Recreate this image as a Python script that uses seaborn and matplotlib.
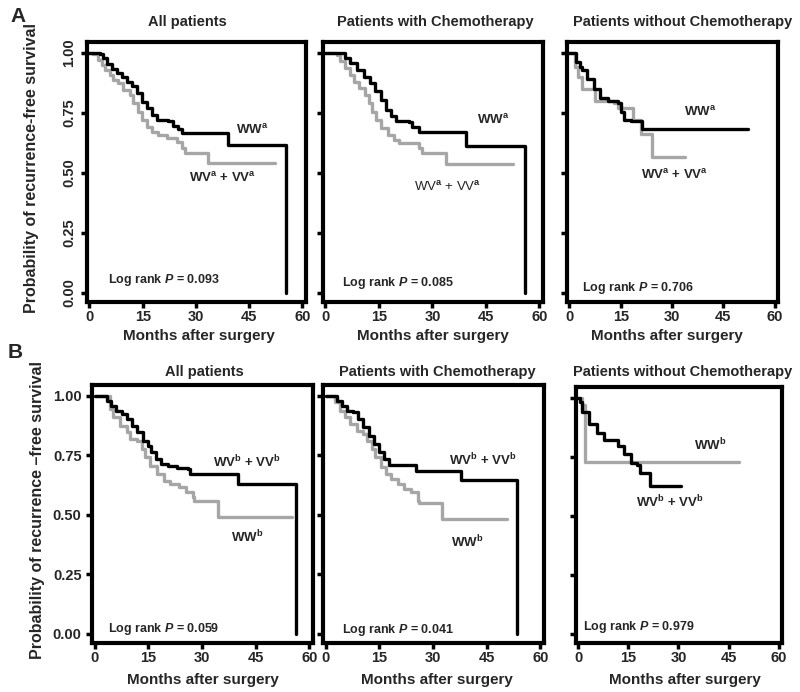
import numpy as np
import pandas as pd
import matplotlib
matplotlib.use("Agg")
import matplotlib.pyplot as plt
import seaborn as sns

# ---- data (months after surgery, survival prob.) ----
# row A: black = WW, gray = WV + VV
a1_ww_m = [0, 1.5, 3.0, 3.9, 4.85, 6.25, 7.7, 9.1, 10.5, 11.9, 13.3, 14.7, 16.1, 17.5, 18.9,
           22.2, 23.6, 25.0, 26.0, 39.1, 55.4]
a1_ww_s = [1.0, 1.0, 0.996, 0.978, 0.954, 0.932, 0.915, 0.899, 0.88, 0.86, 0.832, 0.797, 0.77,
           0.742, 0.72, 0.714, 0.696, 0.682, 0.668, 0.617, 0.0]
a1_wv_m = [0, 1.1, 2.5, 3.4, 4.3, 5.7, 6.7, 8.1, 9.5, 11.4, 12.4, 13.8, 14.7, 16.1, 17.5, 19.4,
           21.7, 24.6, 26.0, 27.0, 33.5, 52.3]
a1_wv_s = [1.0, 0.996, 0.971, 0.95, 0.929, 0.908, 0.887, 0.874, 0.846, 0.825, 0.79, 0.755, 0.72,
           0.693, 0.672, 0.658, 0.645, 0.63, 0.603, 0.582, 0.54, 0.54]

a2_ww_m = [0, 4.6, 5.5, 6.9, 8.8, 10.7, 12.6, 14.0, 15.5, 16.9, 18.3, 19.7, 23.5, 24.4, 26.3,
           39.5, 55.9]
a2_ww_s = [1.0, 0.998, 0.978, 0.957, 0.929, 0.901, 0.874, 0.84, 0.804, 0.762, 0.735, 0.718,
           0.71, 0.69, 0.672, 0.61, 0.0]
a2_wv_m = [0, 3.2, 4.1, 5.5, 6.9, 7.9, 9.3, 11.2, 12.2, 13.1, 14.1, 15.5, 17.4, 19.2, 20.7,
           26.3, 27.2, 33.8, 52.7]
a2_wv_s = [1.0, 0.992, 0.964, 0.936, 0.908, 0.88, 0.853, 0.825, 0.79, 0.755, 0.72, 0.686,
           0.658, 0.637, 0.624, 0.603, 0.582, 0.537, 0.537]

a3_ww_m = [0, 2, 3, 3.7, 5.1, 7.1, 8.9, 11.3, 14.2, 15.1, 16, 18, 21.3, 52.3]
a3_ww_s = [1.0, 0.96, 0.94, 0.93, 0.89, 0.85, 0.81, 0.80, 0.79, 0.755, 0.72, 0.714, 0.683, 0.683]
a3_wv_m = [0, 1.5, 2.5, 3.7, 7.4, 13.1, 14.2, 18.5, 20.9, 24.2, 33.7]
a3_wv_s = [1.0, 0.94, 0.90, 0.85, 0.80, 0.79, 0.77, 0.72, 0.66, 0.567, 0.567]

# row B: black = WV + VV, gray = WW
b1_wv_m = [0, 2.2, 3.6, 4.5, 5.9, 7.8, 9.2, 10.6, 12.0, 13.4, 14.9, 15.8, 17.2, 18.6, 20.5,
           22.9, 26.2, 26.6, 40.1, 56.2]
b1_wv_s = [1.0, 0.997, 0.979, 0.958, 0.937, 0.923, 0.902, 0.874, 0.846, 0.811, 0.79, 0.762,
           0.734, 0.714, 0.707, 0.695, 0.693, 0.672, 0.63, 0.0]
b1_ww_m = [0, 4.3, 5.3, 7.2, 9.1, 10.0, 11.9, 13.3, 14.2, 15.6, 17.5, 19.4, 21.2, 23.6, 25.5,
           27.4, 27.9, 34.4, 55.1]
b1_ww_s = [1.0, 0.944, 0.909, 0.874, 0.846, 0.818, 0.811, 0.776, 0.741, 0.707, 0.672, 0.644,
           0.63, 0.616, 0.595, 0.574, 0.556, 0.491, 0.491]

b2_wv_m = [0, 3.1, 4.5, 5.9, 7.8, 9.2, 10.6, 12.1, 13.5, 14.9, 16.3, 17.7, 25.2, 37.9, 53.4]
b2_wv_s = [1.0, 0.979, 0.958, 0.937, 0.93, 0.902, 0.867, 0.832, 0.797, 0.762, 0.734, 0.709,
           0.686, 0.647, 0.0]
b2_ww_m = [0, 2.7, 4.1, 5.5, 6.9, 8.8, 10.6, 11.6, 13.0, 13.9, 15.4, 16.8, 18.2, 20.1, 21.9,
           23.8, 25.7, 26.1, 32.4, 50.7]
b2_ww_s = [1.0, 0.972, 0.937, 0.909, 0.881, 0.853, 0.839, 0.811, 0.776, 0.741, 0.70, 0.672,
           0.651, 0.63, 0.609, 0.595, 0.56, 0.549, 0.481, 0.481]

b3_wv_m = [0, 0.6, 1.2, 3.1, 5.5, 7.8, 11.8, 13.6, 15.7, 17.6, 18.6, 21.4, 30.6]
b3_wv_s = [1.0, 0.98, 0.94, 0.89, 0.85, 0.82, 0.795, 0.76, 0.725, 0.715, 0.68, 0.628, 0.628]
b3_ww_m = [0, 1.0, 1.9, 48]
b3_ww_s = [1.0, 0.97, 0.728, 0.728]

titles = ["All patients", "Patients with Chemotherapy", "Patients without Chemotherapy"]
p_values = ["0.093", "0.085", "0.706", "0.059", "0.041", "0.979"]
x_ticks = [0, 15, 30, 45, 60]
y_ticks = [0.00, 0.25, 0.50, 0.75, 1.00]

sns.set_style("white")
plt.rcParams["font.family"] = ["Liberation Sans", "DejaVu Sans"]
plt.rcParams["mathtext.fontset"] = "custom"
plt.rcParams["mathtext.rm"] = "Liberation Sans:bold"
plt.rcParams["mathtext.bf"] = "Liberation Sans:bold"
plt.rcParams["mathtext.it"] = "Liberation Sans:italic:bold"

W, H = 800, 692
fig = plt.figure(figsize=(8, 6.92), dpi=100)
fig.patch.set_facecolor("white")


def px(x, y):
    return x / W, 1 - y / H


def put(x, y, s, **kw):
    fx, fy = px(x, y)
    kw.setdefault("ha", "center")
    kw.setdefault("va", "center")
    kw.setdefault("fontweight", "bold")
    fig.text(fx, fy, s, **kw)


GRAY = "#a6a6a6"
BLACK = "#000000"

# frame boxes in pixels: x0, y0, x1, y1
frames = [(87, 42, 306, 302), (323, 42, 543, 302), (567, 42, 778, 302),
          (92, 385, 313, 643), (323, 385, 544, 643), (576, 387, 782, 643)]

curves = [
    [("gray", a1_wv_m, a1_wv_s), ("black", a1_ww_m, a1_ww_s)],
    [("gray", a2_wv_m, a2_wv_s), ("black", a2_ww_m, a2_ww_s)],
    [("gray", a3_wv_m, a3_wv_s), ("black", a3_ww_m, a3_ww_s)],
    [("gray", b1_ww_m, b1_ww_s), ("black", b1_wv_m, b1_wv_s)],
    [("gray", b2_ww_m, b2_ww_s), ("black", b2_wv_m, b2_wv_s)],
    [("gray", b3_ww_m, b3_ww_s), ("black", b3_wv_m, b3_wv_s)],
]

for i, (fr, cv) in enumerate(zip(frames, curves)):
    x0, y0, x1, y1 = fr
    l, b = px(x0, y1)
    ax = fig.add_axes([l, b, (x1 - x0) / W, (y1 - y0) / H])
    rows = []
    for g, m, s in cv:
        for mm, ss in zip(m, s):
            rows.append({"month": mm, "surv": ss, "group": g})
    df = pd.DataFrame(rows)
    sns.lineplot(data=df, x="month", y="surv", hue="group", hue_order=["gray", "black"],
                 palette={"gray": GRAY, "black": BLACK}, drawstyle="steps-post",
                 estimator=None, sort=False, linewidth=2.4, legend=False, ax=ax)
    ax.set_xlim(-0.7, 61)
    ax.set_ylim(-0.038, 1.045)
    ax.set_xticks(x_ticks)
    ax.set_yticks(y_ticks)
    ax.set_xlabel("")
    ax.set_ylabel("")
    for sp in ax.spines.values():
        sp.set_visible(True)
        sp.set_linewidth(3)
        sp.set_color("black")
    ax.tick_params(axis="both", direction="out", length=4, width=2.5, color="black",
                   bottom=True, left=True, labelsize=10.5)
    ax.set_xticklabels([str(t) for t in x_ticks], fontweight="bold")
    if i == 0:
        ax.set_yticklabels(["%.2f" % t for t in y_ticks], fontweight="bold",
                           rotation=90, va="center")
    elif i == 3:
        ax.set_yticklabels(["%.2f" % t for t in y_ticks], fontweight="bold")
    else:
        ax.set_yticklabels([])
    ax.tick_params(axis="x", pad=1.5)

# panel titles
for x, y, t in [(187, 22, titles[0]), (435, 22, titles[1]), (683, 22, titles[2]),
                (204, 372, titles[0]), (437, 372, titles[1]), (683, 372, titles[2])]:
    put(x, y, t, fontsize=10.5)

# x labels
for x, y in [(199, 336), (433, 336), (667, 336), (203, 680), (437, 680), (685, 680)]:
    put(x, y, "Months after surgery", fontsize=11)

# y labels and panel letters
put(32, 168, "Probability of recurrence-free survival", fontsize=11.5, rotation=90)
put(38, 510, "Probability of recurrence \u2013free survival", fontsize=11.5, rotation=90)
put(18, 17, "A", fontsize=15)
put(15, 352, "B", fontsize=15)

# curve labels
wa = r"WW$^{\rm a}$"
va = r"WV$^{\rm a}$ + VV$^{\rm a}$"
wb = r"WW$^{\rm b}$"
vb = r"WV$^{\rm b}$ + VV$^{\rm b}$"
put(252, 130, wa, fontsize=9.5)
put(223, 178, va, fontsize=9.5)
put(493, 120, wa, fontsize=9.5)
put(448, 187, va, fontsize=9.5, fontweight="normal")
put(700, 112, wa, fontsize=9.5)
put(675, 175, va, fontsize=9.5)
put(247, 462, vb, fontsize=9.5)
put(247, 537, wb, fontsize=9.5)
put(483, 460, vb, fontsize=9.5)
put(467, 542, wb, fontsize=9.5)
put(710, 445, wb, fontsize=9.5)
put(670, 502, vb, fontsize=9.5)

# log rank p values
for (x, y), p in zip([(108, 280), (342, 283), (582, 288), (108, 629), (342, 630), (583, 627)],
                     p_values):
    put(x, y, "Log rank $P$ = " + p, fontsize=9, ha="left")

fig.savefig("out.png", dpi=100, facecolor="white")
